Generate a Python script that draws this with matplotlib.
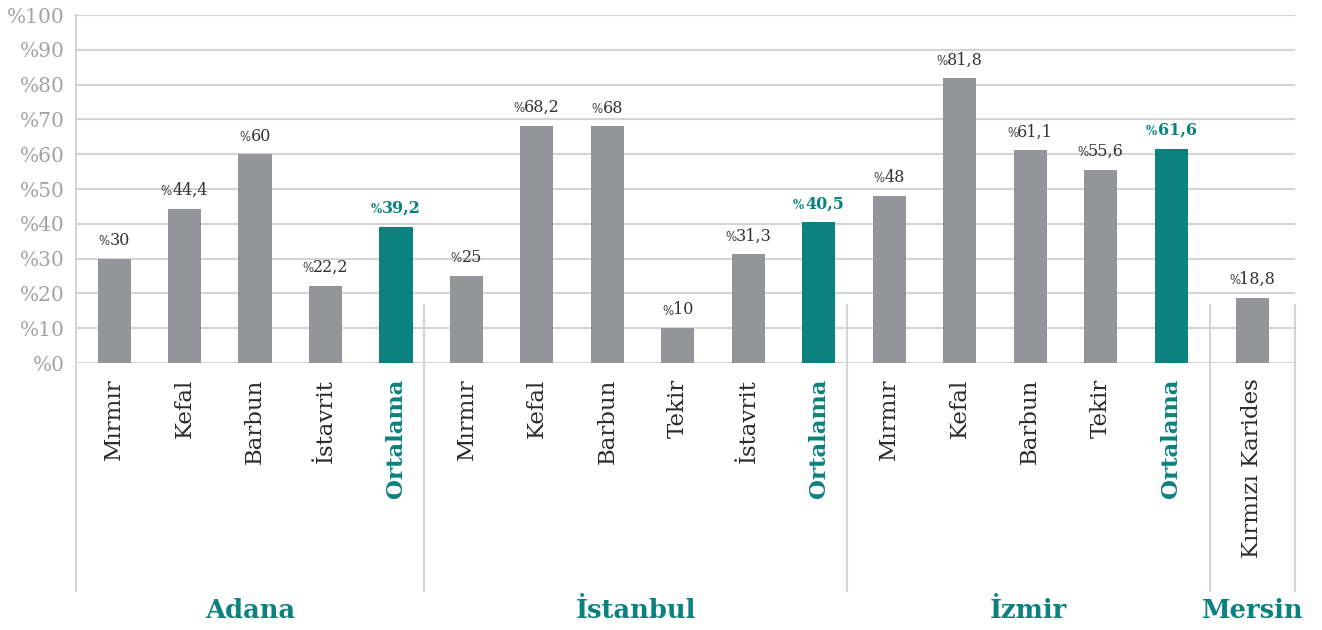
import matplotlib.pyplot as plt
from matplotlib.transforms import blended_transform_factory
from matplotlib.textpath import TextPath
from matplotlib.font_manager import FontProperties

plt.rcParams['font.family'] = ['DejaVu Serif']

groups = ['Adana', 'İstanbul', 'İzmir', 'Mersin']
group_items = [
    ['Mırmır', 'Kefal', 'Barbun', 'İstavrit', 'Ortalama'],
    ['Mırmır', 'Kefal', 'Barbun', 'Tekir', 'İstavrit', 'Ortalama'],
    ['Mırmır', 'Kefal', 'Barbun', 'Tekir', 'Ortalama'],
    ['Kırmızı Karides'],
]
group_values = [
    [30, 44.4, 60, 22.2, 39.2],
    [25, 68.2, 68, 10, 31.3, 40.5],
    [48, 81.8, 61.1, 55.6, 61.6],
    [18.8],
]
yticks = list(range(0, 101, 10))

TEAL = '#0b827e'
GRAY = '#939598'
GRID = '#d4d4d4'
# extra space left before each group (Mersin sits a bit further out)
group_gap = [0, 0, 0, 0.15]

labels, values, x, starts, ends = [], [], [], [], []
pos = 0.0
for items, vals, gap in zip(group_items, group_values, group_gap):
    pos += gap
    starts.append(pos)
    for lab, v in zip(items, vals):
        labels.append(lab)
        values.append(v)
        x.append(pos)
        pos += 1
    ends.append(pos - 1)
is_avg = [lab == 'Ortalama' for lab in labels]

fig = plt.figure(figsize=(13.22, 6.3), dpi=100)
ax = fig.add_axes([0.0575, 0.4238, 0.9222, 0.5522])

colors = [TEAL if a else GRAY for a in is_avg]
ax.bar(x, values, width=0.47, color=colors, zorder=3)

ax.set_xlim(-0.54, ends[-1] + 0.61)
ax.set_ylim(0, 100)
ax.set_yticks(yticks)
ax.set_yticklabels([f'%{t}' for t in yticks], color='#a3a3a3', fontsize=14.5)
ax.tick_params(axis='both', length=0, pad=8)
ax.set_xticks([])
for s in ax.spines.values():
    s.set_visible(False)
for t in yticks:
    ax.axhline(t, color=GRID, lw=1.5, zorder=1)


def text_width(s, size, weight='normal'):
    prop = FontProperties(family='DejaVu Serif', size=size, weight=weight)
    return TextPath((0, 0), s, size=size, prop=prop).get_extents().width


# value labels: small percent sign followed by the number
for xi, v, a in zip(x, values, is_avg):
    num = f'{v:g}'.replace('.', ',')
    weight = 'bold' if a else 'normal'
    col = TEAL if a else '#333333'
    fs = 11.5
    pfs = 8.5
    wn = text_width(num, fs, weight)
    wp = text_width('%', pfs, weight) + 2.5
    total = wn + wp
    ax.annotate(num, (xi, v), xytext=(total / 2, 7), textcoords='offset points',
                ha='right', va='bottom', fontsize=fs, color=col, fontweight=weight, zorder=4)
    ax.annotate('%', (xi, v), xytext=(-total / 2, 7.6), textcoords='offset points',
                ha='left', va='bottom', fontsize=pfs, color=col, fontweight=weight, zorder=4)

trans = blended_transform_factory(ax.transData, ax.transAxes)

# category labels, rotated
for xi, lab, a in zip(x, labels, is_avg):
    ax.text(xi, -0.045, lab, transform=trans, rotation=90, ha='center', va='top',
            fontsize=16.5, color=TEAL if a else '#2b2b2b',
            fontweight='bold' if a else 'normal')

# group separators and names
x_left, x_right = ax.get_xlim()
ax.plot([x_left, x_left], [1, -0.655], transform=trans, color=GRID, lw=1.5, clip_on=False)
ax.plot([x_right, x_right], [0.167, -0.655], transform=trans, color=GRID, lw=1.5, clip_on=False)
bounds = [x_left]
for st in starts[1:]:
    sep = st - 0.6
    bounds.append(sep)
    ax.plot([sep, sep], [0.167, -0.655], transform=trans, color=GRID, lw=1.5, clip_on=False)
bounds.append(x_right)

for i, g in enumerate(groups):
    cx = (bounds[i] + bounds[i + 1]) / 2
    ax.text(cx, -0.71, g, transform=trans, ha='center', va='center',
            fontsize=18.5, fontweight='bold', color=TEAL)

fig.savefig('out.png', dpi=100)
